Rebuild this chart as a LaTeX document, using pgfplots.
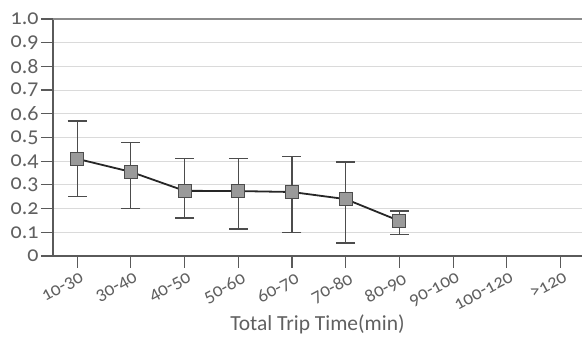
\documentclass[border=0pt]{standalone}
\usepackage{fontspec}
\setmainfont{Carlito}[Numbers=OldStyle]
\usepackage{pgfplots}
\pgfplotsset{compat=1.18}
\definecolor{txt}{HTML}{606060}
\definecolor{gridc}{HTML}{DADADA}
\definecolor{axc}{HTML}{5A5A5A}
\definecolor{mk}{HTML}{9A9A9A}
\begin{document}
\begin{tikzpicture}
\begin{axis}[
  scale only axis,
  width=529pt, height=237pt,
  xmin=-0.45, xmax=9.4,
  ymin=0, ymax=1.0,
  axis x line=bottom, axis y line=left,
  axis line style={axc, line width=1.3pt, -},
  xtick={0,...,9},
  xticklabels={10-30,30-40,40-50,50-60,60-70,70-80,80-90,90-100,100-120,>120},
  ytick={0,0.1,...,1.0},
  yticklabels={0,0.1,0.2,0.3,0.4,0.5,0.6,0.7,0.8,0.9,1.0},
  /pgf/number format/assume math mode=true,
  tick align=outside,
  major tick length=12pt,
  tick style={axc, line width=1.2pt},
  ymajorgrids,
  grid style={gridc, line width=1.1pt},
  yticklabel style={font=\fontsize{22}{22}\selectfont, text=txt, xshift=1pt},
  xticklabel style={font=\fontsize{19}{19}\selectfont, text=txt, rotate=28, anchor=north east, xshift=4pt, yshift=-1pt},
  xlabel={Total Trip Time(min)},
  xlabel style={font=\fontsize{21.5}{22}\selectfont, text=txt, yshift=4pt},
  clip=false,
]
\draw[color=axc!70, line width=1.1pt] (axis cs:-0.45,1.0) -- (axis cs:9.4,1.0);
\addplot[
  black!85, line width=1.8pt,
  mark=square*, mark size=6.5pt,
  mark options={fill=mk, draw=black!70, line width=1pt},
  error bars/.cd, y dir=both, y explicit,
  error mark options={rotate=90, mark size=9.5pt, line width=1.2pt, color=black!70},
  error bar style={line width=1.2pt, color=black!70},
] coordinates {
  (0,0.41)  += (0,0.16)  -= (0,0.16)
  (1,0.355) += (0,0.125) -= (0,0.155)
  (2,0.275) += (0,0.135) -= (0,0.115)
  (3,0.274) += (0,0.139) -= (0,0.16)
  (4,0.270) += (0,0.150) -= (0,0.17)
  (5,0.240) += (0,0.157) -= (0,0.185)
  (6,0.148) += (0,0.042) -= (0,0.058)
};
\end{axis}
\pgfresetboundingbox
\path (-53pt,-91pt) rectangle (529pt,256pt);
\end{tikzpicture}
\end{document}
